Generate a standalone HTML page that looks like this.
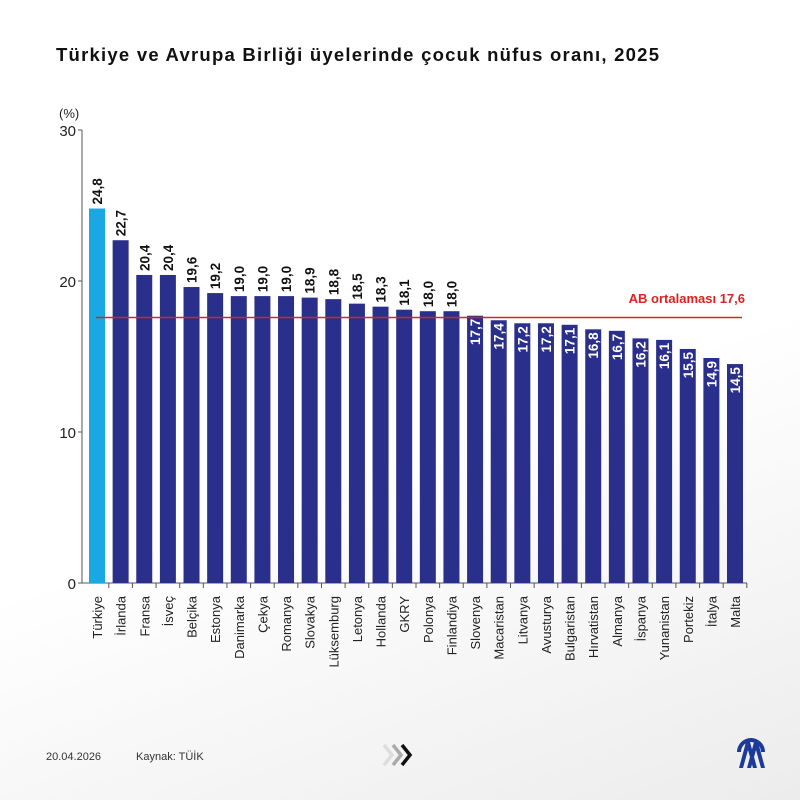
<!DOCTYPE html><html><head><meta charset="utf-8"><style>
body{margin:0;width:800px;height:800px;overflow:hidden;background:linear-gradient(160deg,#fff 55%,#ececec 100%);font-family:"Liberation Sans",sans-serif}
</style></head><body>
<svg width="800" height="800" xmlns="http://www.w3.org/2000/svg" font-family="Liberation Sans, sans-serif">
<text x="56" y="61" font-size="18.5" font-weight="bold" fill="#111" letter-spacing="1" textLength="604">Türkiye ve Avrupa Birliği üyelerinde çocuk nüfus oranı, 2025</text>
<text x="59" y="118" font-size="13" fill="#222">(%)</text>
<g font-size="15" fill="#222" text-anchor="end">
<text x="76" y="136">30</text><text x="76" y="287">20</text><text x="76" y="438">10</text><text x="76" y="589">0</text></g>
<g stroke="#555" stroke-width="1">
<line x1="82" y1="130" x2="82" y2="583"/><line x1="82" y1="583" x2="747" y2="583"/>
<line x1="78" y1="130" x2="82" y2="130"/><line x1="78" y1="281" x2="82" y2="281"/><line x1="78" y1="432" x2="82" y2="432"/><line x1="78" y1="583" x2="82" y2="583"/>
</g>
<g id="bars"></g>
<line x1="96" y1="317.5" x2="742" y2="317.5" stroke="#e0201f" stroke-width="1.5"/>
<text x="745" y="303" font-size="13" font-weight="bold" fill="#e0201f" text-anchor="end">AB ortalaması 17,6</text>
<text x="46" y="760" font-size="11" fill="#333">20.04.2026</text>
<text x="136" y="760" font-size="11" fill="#333">Kaynak: TÜİK</text>
<g fill="none" stroke-width="3.5"><path d="M384 745 l8 10 -8 10" stroke="#ddd"/><path d="M393 745 l8 10 -8 10" stroke="#aaa"/><path d="M402 745 l8 10 -8 10" stroke="#111"/></g>
<g fill="#1d3a9a"><path d="M739 768 L746 742 L750 742 L757 768 L753 768 L748 750 L743 768Z"/><path d="M747 768 L754 742 L758 742 L765 768 L761 768 L756 750 L751 768Z"/><path d="M737 752 A14 14 0 0 1 765 752 L761 752 A10 10 0 0 0 741 752Z"/></g>
</svg>
<script>
var d=[["Türkiye",24.8],["İrlanda",22.7],["Fransa",20.4],["İsveç",20.4],["Belçika",19.6],["Estonya",19.2],["Danimarka",19.0],["Çekya",19.0],["Romanya",19.0],["Slovakya",18.9],["Lüksemburg",18.8],["Letonya",18.5],["Hollanda",18.3],["GKRY",18.1],["Polonya",18.0],["Finlandiya",18.0],["Slovenya",17.7],["Macaristan",17.4],["Litvanya",17.2],["Avusturya",17.2],["Bulgaristan",17.1],["Hırvatistan",16.8],["Almanya",16.7],["İspanya",16.2],["Yunanistan",16.1],["Portekiz",15.5],["İtalya",14.9],["Malta",14.5]];
var s="";
d.forEach(function(e,i){var x=89+i*23.63,w=16,h=e[1]*15.1,y=583-h,cx=x+w/2,v=e[1].toFixed(1).replace(".",",");
s+='<rect x="'+x+'" y="'+y+'" width="'+w+'" height="'+h+'" fill="'+(i?"#2b2f8c":"#1aa8e4")+'"/>';
s+='<line x1="'+(x+w+3.8)+'" y1="583" x2="'+(x+w+3.8)+'" y2="588" stroke="#555"/>';
if(i<16)s+='<text transform="translate('+(cx+5)+','+(y-4)+') rotate(-90)" font-size="13.5" font-weight="bold" fill="#111">'+v+'</text>';
else s+='<text transform="translate('+(cx+5)+','+(y+3)+') rotate(-90)" font-size="13.5" font-weight="bold" fill="#fff" text-anchor="end">'+v+'</text>';
s+='<text transform="translate('+(cx+5)+',596) rotate(-90)" font-size="13" fill="#222" text-anchor="end">'+e[0]+'</text>';});
document.getElementById("bars").innerHTML=s;
</script>
</body></html>
